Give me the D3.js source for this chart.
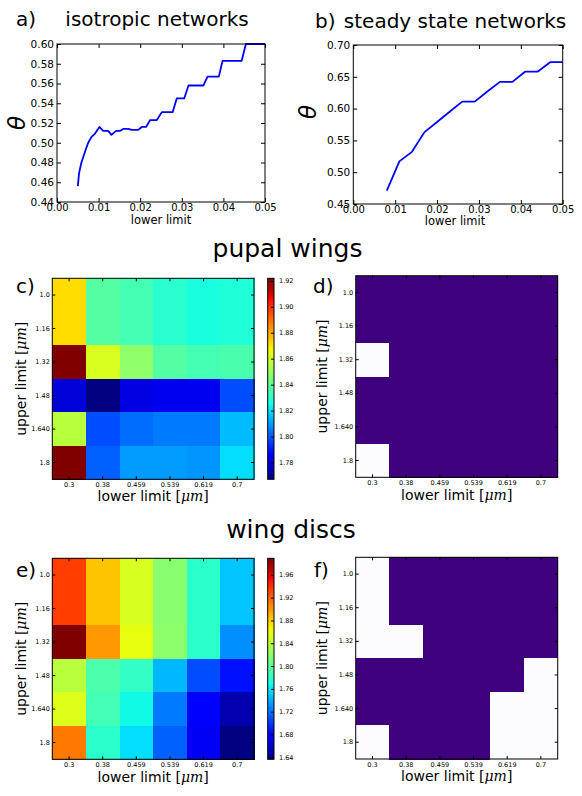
<!DOCTYPE html>
<html>
<head>
<meta charset="utf-8">
<script src="https://cdn.jsdelivr.net/npm/d3@7"></script>
<style>
body { margin: 0; background: #fff; }
svg text { font-family: "DejaVu Sans", sans-serif; fill: #000; }
</style>
</head>
<body>
<svg id="fig" width="582" height="796"></svg>
<script>
// a) isotropic networks
var isoX = [0.0050,0.0053,0.0058,0.0069,0.0075,0.0083,0.0091,0.0102,0.0111,0.0123,0.0131,0.0142,0.0151,0.0159,0.0171,0.0180,0.0195,0.0204,0.0214,0.0224,0.0240,0.0252,0.0278,0.0288,0.0306,0.0316,0.0352,0.0362,0.0389,0.0398,0.0444,0.0454,0.0500];
var isoY = [0.456,0.469,0.479,0.493,0.500,0.506,0.509,0.516,0.512,0.512,0.508,0.512,0.512,0.514,0.514,0.513,0.513,0.516,0.516,0.523,0.523,0.531,0.531,0.545,0.545,0.558,0.558,0.567,0.567,0.583,0.583,0.600,0.600];
// b) steady state networks
var ssX = [0.008,0.011,0.014,0.017,0.020,0.023,0.026,0.029,0.032,0.035,0.038,0.041,0.044,0.047,0.050];
var ssY = [0.471,0.517,0.532,0.563,0.579,0.595,0.611,0.611,0.627,0.642,0.642,0.658,0.658,0.673,0.673];

var lineXTicks = [0.00,0.01,0.02,0.03,0.04,0.05];
var isoYTicks = [0.44,0.46,0.48,0.50,0.52,0.54,0.56,0.58,0.60];
var ssYTicks = [0.45,0.50,0.55,0.60,0.65,0.70];

// heatmaps
var lowerLimits = ["0.3","0.38","0.459","0.539","0.619","0.7"];
var upperLimits = ["1.0","1.16","1.32","1.48","1.640","1.8"];

var pupalDim = [
  [1.872,1.837,1.834,1.829,1.826,1.827],
  [1.872,1.837,1.834,1.829,1.826,1.827],
  [1.922,1.862,1.848,1.837,1.834,1.835],
  [1.779,1.767,1.780,1.782,1.782,1.798],
  [1.856,1.798,1.803,1.805,1.805,1.815],
  [1.922,1.801,1.810,1.810,1.809,1.820]
];
var pupalSig = [
  [1,1,1,1,1,1],
  [1,1,1,1,1,1],
  [0,1,1,1,1,1],
  [1,1,1,1,1,1],
  [1,1,1,1,1,1],
  [0,1,1,1,1,1]
];
var discDim = [
  [1.934,1.884,1.852,1.818,1.778,1.749],
  [1.934,1.884,1.852,1.818,1.778,1.749],
  [1.989,1.901,1.859,1.820,1.778,1.730],
  [1.839,1.792,1.781,1.744,1.707,1.686],
  [1.855,1.788,1.767,1.723,1.679,1.651],
  [1.912,1.778,1.757,1.714,1.672,1.637]
];
var discSig = [
  [0,1,1,1,1,1],
  [0,1,1,1,1,1],
  [0,0,1,1,1,1],
  [1,1,1,1,1,0],
  [1,1,1,1,0,0],
  [0,1,1,1,0,0]
];
var pupalRange = [1.767, 1.922];
var discRange = [1.6365, 1.989];
var pupalTicks = [1.78,1.80,1.82,1.84,1.86,1.88,1.90,1.92];
var discTicks = [1.64,1.68,1.72,1.76,1.80,1.84,1.88,1.92,1.96];

var svg = d3.select("#fig");

// matplotlib jet, channel by channel
var jr = d3.scaleLinear().domain([0,0.35,0.66,0.89,1]).range([0,0,1,1,0.5]).clamp(true);
var jg = d3.scaleLinear().domain([0,0.125,0.375,0.64,0.91,1]).range([0,0,1,1,0,0]).clamp(true);
var jb = d3.scaleLinear().domain([0,0.11,0.34,0.65,1]).range([0.5,1,1,0,0]).clamp(true);
function jet(t) {
  return d3.rgb(jr(t)*255, jg(t)*255, jb(t)*255).toString();
}

function styleAxis(g, size) {
  g.select(".domain").remove();
  g.selectAll("line").attr("stroke", "#000");
  g.selectAll("text").attr("font-family", "DejaVu Sans").attr("font-size", size).attr("fill", "#000");
}

function text(x, y, s, size, anchor) {
  return svg.append("text").attr("x", x).attr("y", y)
    .attr("font-size", size).attr("text-anchor", anchor || "start").text(s);
}

function lineChart(box, xs, ys, yTicks, yFmt, label, title, thetaPos, xlabPos) {
  var x = d3.scaleLinear().domain([0, 0.05]).range([box.x0, box.x1]);
  var y = d3.scaleLinear().domain([yTicks[0], yTicks[yTicks.length-1]]).range([box.y1, box.y0]);
  var g = svg.append("g");

  g.append("g").attr("transform", "translate(0," + box.y1 + ")")
    .call(d3.axisBottom(x).tickValues(lineXTicks).tickFormat(d3.format(".2f")).tickSize(-4).tickPadding(2))
    .call(styleAxis, 10);
  g.append("g").attr("transform", "translate(0," + box.y0 + ")")
    .call(d3.axisTop(x).tickValues(lineXTicks).tickFormat("").tickSize(-4))
    .call(styleAxis, 10);
  g.append("g").attr("transform", "translate(" + box.x0 + ",0)")
    .call(d3.axisLeft(y).tickValues(yTicks).tickFormat(d3.format(yFmt)).tickSize(-4).tickPadding(3))
    .call(styleAxis, 10.5);
  g.append("g").attr("transform", "translate(" + box.x1 + ",0)")
    .call(d3.axisRight(y).tickValues(yTicks).tickFormat("").tickSize(-4))
    .call(styleAxis, 10.5);

  var line = d3.line().x(function(d, i) { return x(xs[i]); }).y(function(d) { return y(d); });
  g.append("path").datum(ys).attr("d", line)
    .attr("fill", "none").attr("stroke", "#0000ff").attr("stroke-width", 1.8)
    .attr("stroke-linejoin", "round");

  g.append("rect").attr("x", box.x0).attr("y", box.y0)
    .attr("width", box.x1 - box.x0).attr("height", box.y1 - box.y0)
    .attr("fill", "none").attr("stroke", "#000").attr("stroke-width", 1);

  text(label.x, label.y, label.s, 20);
  text(title.x, title.y, title.s, 20, "middle");
  svg.append("text").attr("transform", "translate(" + thetaPos[0] + "," + thetaPos[1] + ") rotate(-90)")
    .attr("text-anchor", "middle").attr("dy", "0.35em").attr("font-size", 23)
    .attr("font-family", "DejaVu Serif").attr("font-style", "italic").text("θ");
  text(xlabPos[0], xlabPos[1], "lower limit", 11.5, "middle");
}

function axisLabels(box, ylabX, xlabY) {
  var cx = (box.x0 + box.x1) / 2, cy = (box.y0 + box.y1) / 2;
  var xl = svg.append("text").attr("x", cx).attr("y", xlabY)
    .attr("font-size", 14).attr("text-anchor", "middle");
  xl.append("tspan").text("lower limit ");
  xl.append("tspan").attr("font-family", "DejaVu Serif").text("[");
  xl.append("tspan").attr("font-family", "DejaVu Serif").attr("font-style", "italic").text("μm");
  xl.append("tspan").attr("font-family", "DejaVu Serif").text("]");

  var yl = svg.append("text").attr("transform", "translate(" + ylabX + "," + cy + ") rotate(-90)")
    .attr("font-size", 14).attr("text-anchor", "middle");
  yl.append("tspan").text("upper limit ");
  yl.append("tspan").attr("font-family", "DejaVu Serif").text("[");
  yl.append("tspan").attr("font-family", "DejaVu Serif").attr("font-style", "italic").text("μm");
  yl.append("tspan").attr("font-family", "DejaVu Serif").text("]");
}

function heatmap(box, values, color, label, ylabX, xlabY) {
  var x = d3.scaleBand().domain(lowerLimits).range([box.x0, box.x1]);
  var y = d3.scaleBand().domain(upperLimits).range([box.y0, box.y1]);
  var g = svg.append("g");
  values.forEach(function(row, r) {
    g.selectAll(null).data(row).enter().append("rect")
      .attr("x", function(d, c) { return x(lowerLimits[c]); })
      .attr("y", y(upperLimits[r]))
      .attr("width", x.bandwidth() + 0.5)
      .attr("height", y.bandwidth() + 0.5)
      .attr("fill", function(d) { return color(d); })
      .attr("shape-rendering", "crispEdges");
  });

  g.append("g").attr("transform", "translate(0," + box.y1 + ")")
    .call(d3.axisBottom(x).tickSize(-3).tickPadding(3.5)).call(styleAxis, 6.5);
  g.append("g").attr("transform", "translate(0," + box.y0 + ")")
    .call(d3.axisTop(x).tickSize(-3).tickFormat("")).call(styleAxis, 6.5);
  g.append("g").attr("transform", "translate(" + box.x0 + ",0)")
    .call(d3.axisLeft(y).tickSize(-3).tickPadding(2.5)).call(styleAxis, 6.5);
  g.append("g").attr("transform", "translate(" + box.x1 + ",0)")
    .call(d3.axisRight(y).tickSize(-3).tickFormat("")).call(styleAxis, 6.5);

  g.append("rect").attr("x", box.x0).attr("y", box.y0)
    .attr("width", box.x1 - box.x0).attr("height", box.y1 - box.y0)
    .attr("fill", "none").attr("stroke", "#000").attr("stroke-width", 1);

  text(label.x, label.y, label.s, 20);
  axisLabels(box, ylabX, xlabY);
}

function colorbar(box, range, ticks, id) {
  var grad = svg.append("defs").append("linearGradient").attr("id", id)
    .attr("x1", 0).attr("y1", 1).attr("x2", 0).attr("y2", 0);
  d3.range(0, 1.0001, 0.025).forEach(function(t) {
    grad.append("stop").attr("offset", t).attr("stop-color", jet(t));
  });
  svg.append("rect").attr("x", box.x0).attr("y", box.y0)
    .attr("width", box.x1 - box.x0).attr("height", box.y1 - box.y0)
    .attr("fill", "url(#" + id + ")").attr("stroke", "#000").attr("stroke-width", 1);
  var cy = d3.scaleLinear().domain(range).range([box.y1, box.y0]);
  svg.append("g").attr("transform", "translate(" + box.x1 + ",0)")
    .call(d3.axisRight(cy).tickValues(ticks).tickFormat(d3.format(".2f")).tickSize(-3).tickPadding(5))
    .call(styleAxis, 6.5);
}

// ---- row 1: line charts
lineChart({x0: 57, x1: 265, y0: 44, y1: 202}, isoX, isoY, isoYTicks, ".2f",
  {x: 16, y: 26, s: "a)"}, {x: 157, y: 26, s: "isotropic networks"}, [17, 123], [161, 224]);
lineChart({x0: 353.3, x1: 562.7, y0: 45, y1: 204}, ssX, ssY, ssYTicks, ".2f",
  {x: 315, y: 28, s: "b)"}, {x: 455, y: 28, s: "steady state networks"}, [308, 112], [455, 225]);

// ---- pupal wings
text(287.5, 257, "pupal wings", 25, "middle");
var pupalColor = d3.scaleLinear().domain(pupalRange).range([0, 1]);
heatmap({x0: 52.3, x1: 254, y0: 278.3, y1: 479.3}, pupalDim,
  function(v) { return jet(pupalColor(v)); }, {x: 16, y: 293, s: "c)"}, 26, 501);
colorbar({x0: 267.7, x1: 274, y0: 278.3, y1: 479.3}, pupalRange, pupalTicks, "cbPupal");
heatmap({x0: 355.7, x1: 557.7, y0: 275.7, y1: 477.3}, pupalSig,
  function(v) { return d3.interpolatePurples(v); }, {x: 313, y: 293, s: "d)"}, 327, 499.5);

// ---- wing discs
text(291, 538, "wing discs", 25, "middle");
var discColor = d3.scaleLinear().domain(discRange).range([0, 1]);
heatmap({x0: 52.3, x1: 254, y0: 558.3, y1: 759.3}, discDim,
  function(v) { return jet(discColor(v)); }, {x: 16, y: 577, s: "e)"}, 26, 781.5);
colorbar({x0: 267.7, x1: 274, y0: 558.3, y1: 759.3}, discRange, discTicks, "cbDisc");
heatmap({x0: 355.7, x1: 557.7, y0: 557.3, y1: 759}, discSig,
  function(v) { return d3.interpolatePurples(v); }, {x: 314, y: 577, s: "f)"}, 327, 781);
</script>
</body>
</html>
